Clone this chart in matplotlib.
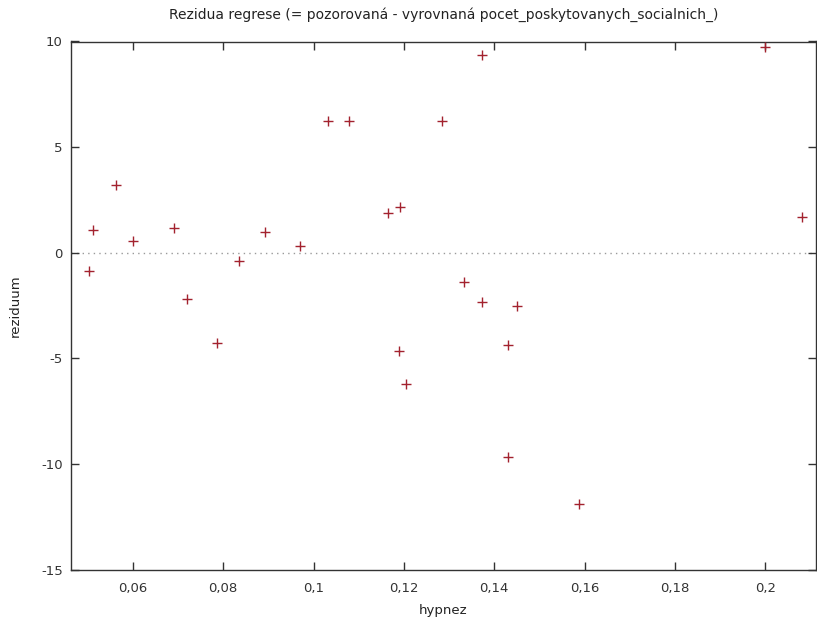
import matplotlib
matplotlib.use("Agg")
import matplotlib.pyplot as plt

hypnez = [0.0504, 0.0513, 0.0563, 0.0600, 0.0691, 0.0719, 0.0787, 0.0834, 0.0892, 0.0971,
          0.1033, 0.1078, 0.1165, 0.1191, 0.1190, 0.1205, 0.1284, 0.1333, 0.1372, 0.1372,
          0.1430, 0.1430, 0.1451, 0.1587, 0.1999, 0.2081]
reziduum = [-0.87, 1.06, 3.19, 0.55, 1.18, -2.21, -4.26, -0.39, 1.00, 0.30,
            6.23, 6.23, 1.86, 2.18, -4.64, -6.20, 6.23, -1.39, 9.36, -2.32,
            -4.38, -9.68, -2.51, -11.88, 9.74, 1.67]

x_ticks = [0.06, 0.08, 0.10, 0.12, 0.14, 0.16, 0.18, 0.20]
x_tick_labels = ["0,06", "0,08", "0,1", "0,12", "0,14", "0,16", "0,18", "0,2"]
y_ticks = [-15, -10, -5, 0, 5, 10]
y_tick_labels = ["-15", "-10", "-5", "0", "5", "10"]

title = "Rezidua regrese (= pozorovaná - vyrovnaná pocet_poskytovanych_socialnich_)"

fig = plt.figure(figsize=(8.17, 6.23), dpi=100)
ax = fig.add_axes([71 / 817, 53.3 / 623, 745 / 817, 528.2 / 623])

ax.axhline(0, color="#9a9a9a", linestyle=(0, (1, 3)), linewidth=1.0, zorder=1)
ax.plot(hypnez, reziduum, linestyle="none", marker="+", markersize=6.5,
        markeredgewidth=1.0, color="#a3222e", zorder=3)

ax.set_xlim(0.04633, 0.2112)
ax.set_ylim(-15, 10)
ax.set_xticks(x_ticks)
ax.set_xticklabels(x_tick_labels)
ax.set_yticks(y_ticks)
ax.set_yticklabels(y_tick_labels)

ax.tick_params(direction="in", length=6, width=1, color="#333333",
               labelcolor="#333333", labelsize=9.5, top=True, right=True, pad=6)
ax.tick_params(axis="x", pad=9)
for s in ax.spines.values():
    s.set_color("#333333")
    s.set_linewidth(1.0)

ax.set_title(title, fontsize=10, color="#222222", pad=16)
ax.set_xlabel("hypnez", fontsize=9.5, color="#222222", labelpad=6)
ax.set_ylabel("reziduum", fontsize=9.5, color="#222222", labelpad=14)

fig.savefig("out.png", dpi=100)
